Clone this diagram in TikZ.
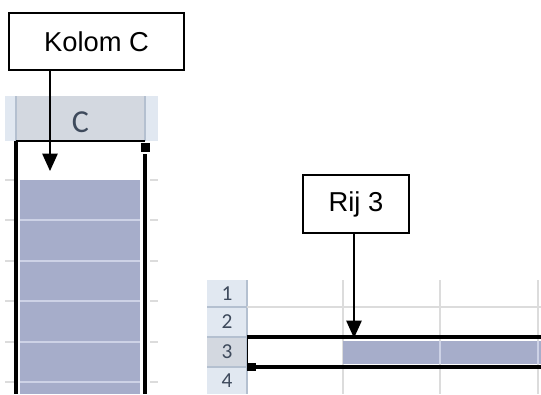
\documentclass[tikz,border=0pt]{standalone}
\usepackage{fontspec}
\setmainfont{Liberation Sans}
\newfontfamily\calib{Carlito}
\usetikzlibrary{arrows.meta}
\definecolor{hdrlight}{HTML}{E1E8F1}
\definecolor{hdrsel}{HTML}{D3D8E0}
\definecolor{selfill}{HTML}{A6ADCA}
\definecolor{selgrid}{HTML}{CDD2E6}
\definecolor{gridc}{HTML}{DCDCDC}
\definecolor{hdrtext}{HTML}{3E4A5C}
\definecolor{hdrline}{HTML}{B4C0D0}
\tikzset{
  labelbox/.style={draw=black, line width=1.2pt, fill=white, inner sep=0pt,
    font=\fontsize{20.5}{24}\selectfont},
  pointer/.style={line width=1.1pt, -{Triangle[length=13pt,width=11.5pt]}},
  hdrnum/.style={text=hdrtext, inner sep=0pt, font=\calib\fontsize{16}{17}\selectfont},
  selthick/.style={line width=3pt},
}
\begin{document}
\begin{tikzpicture}[x=0.75pt,y=-0.75pt]
\useasboundingbox (0,0) rectangle (541,394);

% ---------- column picture ----------
\fill[hdrlight] (5,96) rectangle (158,141);
\fill[hdrsel] (16,96) rectangle (145,141);
\draw[hdrline, line width=0.8pt] (16,96)--(16,141) (145,96)--(145,141);
\node[text=hdrtext, inner sep=0pt, font=\calib\fontsize{24}{25}\selectfont] (colC) at (80.5,122) {C};
\foreach \yy in {180,220,261,301,342,382}{
  \draw[gridc, line width=1pt] (5,\yy)--(14,\yy) (150,\yy)--(158,\yy);
}
\fill[selfill] (20,180) rectangle (140,394);
\foreach \yy in {220,261,301,342,382}{
  \draw[selgrid, line width=1.1pt] (20,\yy)--(140,\yy);
}
\draw[selthick] (16,141)--(16,394);
\draw[line width=1.3pt] (16,141)--(145,141);
\draw[selthick] (145,154)--(145,394);
\fill (141,143) rectangle (150,152);

% ---------- row picture ----------
\fill[hdrlight] (207,280) rectangle (247,394);
\fill[hdrsel] (207,337) rectangle (247,367);
\draw[hdrline, line width=0.8pt] (207,307)--(247,307) (207,337)--(247,337) (207,367)--(247,367);
\draw[hdrline, line width=0.8pt] (247,280)--(247,394);
\node[hdrnum] (r1) at (227,294) {1};
\node[hdrnum] (r2) at (227,322) {2};
\node[hdrnum] (r3) at (227,352) {3};
\node[hdrnum] (r4) at (227,381) {4};
\foreach \xx in {343,440,538}{
  \draw[gridc, line width=0.8pt] (\xx,280)--(\xx,394);
}
\draw[gridc, line width=0.8pt] (247,307)--(541,307);
\fill[selfill] (343,341) rectangle (541,364);
\draw[selgrid, line width=1pt] (440,341)--(440,364) (538,341)--(538,364);
\draw[selthick] (247,337)--(541,337);
\draw[line width=1.4pt] (247.5,337)--(247.5,366);
\draw[selthick] (256,367)--(541,367);
\fill (247,363) rectangle (256,371);

% ---------- labels ----------
\node[labelbox, minimum width=131.25pt, minimum height=43pt] (kolom) at (96.5,41.5) {Kolom C};
\node[labelbox, minimum width=79.5pt, minimum height=43.5pt] (rij) at (356,204) {Rij 3};
\coordinate (tipC) at (50,171);
\coordinate (tipR) at (354,338);
\draw[pointer] (kolom.south -| tipC) -- (tipC);
\draw[pointer] (rij.south -| tipR) -- (tipR);
\end{tikzpicture}
\end{document}
